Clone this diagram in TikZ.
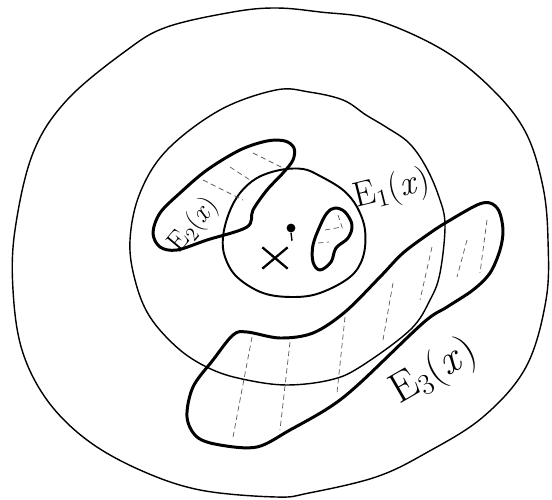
\documentclass[tikz,border=0pt]{standalone}
\usetikzlibrary{shapes.misc}
\begin{document}
\begin{tikzpicture}[x=0.02cm, y=-0.02cm, every node/.style={inner sep=0pt},
    fino/.style={line width=0.8pt},
    grosso/.style={line width=1.7pt, line join=round},
    hach/.style={line width=0.4pt, gray!70!black, densely dashed}]
    \useasboundingbox (0,0) rectangle (552,500);
    % Bola externa e regiao E1
    \draw[fino] plot[smooth cycle, tension=0.6] coordinates {(276,8) (320,12) (376,20) (443,50) (493,90) (526,133) (543,187) (548,240) (546,300) (526,367) (483,417) (426,453) (376,477) (309,493) (276,497) (200,490) (140,470) (87,440) (47,400) (22,350) (13,290) (15,230) (33,153) (67,100) (127,50) (167,27) (233,12)};
    \draw[fino] plot[smooth cycle, tension=0.6] coordinates {(276,90) (309,92) (343,100) (366,115) (386,127) (409,143) (426,167) (439,197) (445,225) (440,273) (430,300) (410,330) (360,367) (330,380) (287,385) (247,380) (213,370) (180,350) (150,317) (135,280) (130,240) (140,193) (167,150) (220,110)};
    \node[font=\fontsize{20}{22}\selectfont, rotate=14] (e1) at (392,190) {E\textsubscript{1}(\textit{x})};
    % Bola interna, ponto e x
    \draw[line width=1.1pt] plot[smooth cycle, tension=0.6] coordinates {(280,170) (303,169) (320,176) (343,190) (357,207) (365,230) (363,257) (350,277) (320,293) (293,297) (263,293) (237,277) (225,257) (223,237) (229,213) (240,193) (257,178)};
    \node[circle, fill, minimum size=5pt] (pt) at (291,228) {};
    \draw[fino] (pt.south) -- ++(1,8);
    \node[cross out, draw, line width=1.3pt, minimum width=0.46cm, minimum height=0.38cm] (xpt) at (275,258) {};
    % Pedaco hachurado dentro da bola
    \draw[grosso] plot[smooth cycle, tension=0.6] coordinates {(335,208) (345,212) (352,225) (348,238) (336,248) (331,262) (320,270) (313,262) (313,245) (320,226) (327,213)};
    \draw[hach] (325,230) -- (342,227) (318,243) -- (329,242) (338,215) -- (343,230);
    % Regiao E2
    \draw[grosso] plot[smooth cycle, tension=0.55] coordinates {(267,141) (285,141) (294,148) (293,160) (283,173) (267,190) (253,210) (247,227) (207,240) (177,250) (160,247) (153,233) (160,213) (180,193) (207,170) (240,150)};
    \draw[hach] (253,153) -- (283,168) (230,167) -- (250,180) (203,180) -- (243,200);
    \node[font=\fontsize{16}{18}\selectfont, rotate=50] (e2) at (194,225) {E\textsubscript{2}(\textit{x})};
    % Regiao E3
    \draw[grosso] plot[smooth cycle, tension=0.55] coordinates {(233,335) (247,332) (280,338) (313,333) (345,312) (380,277) (403,253) (430,233) (447,222) (477,205) (490,203) (499,211) (503,230) (500,250) (490,273) (473,290) (447,307) (423,323) (360,383) (330,407) (290,430) (257,447) (220,445) (197,437) (187,417) (193,387) (213,360)};
    \draw[hach] (252,337) -- (233,437) (290,342) -- (280,430) (345,317) -- (337,393) (393,283) -- (383,340) (432,247) -- (420,300) (467,240) -- (457,277) (487,220) -- (480,273);
    \node[font=\fontsize{24}{26}\selectfont, rotate=30] (e3) at (434,372) {E\textsubscript{3}(\textit{x})};
\end{tikzpicture}
\end{document}
